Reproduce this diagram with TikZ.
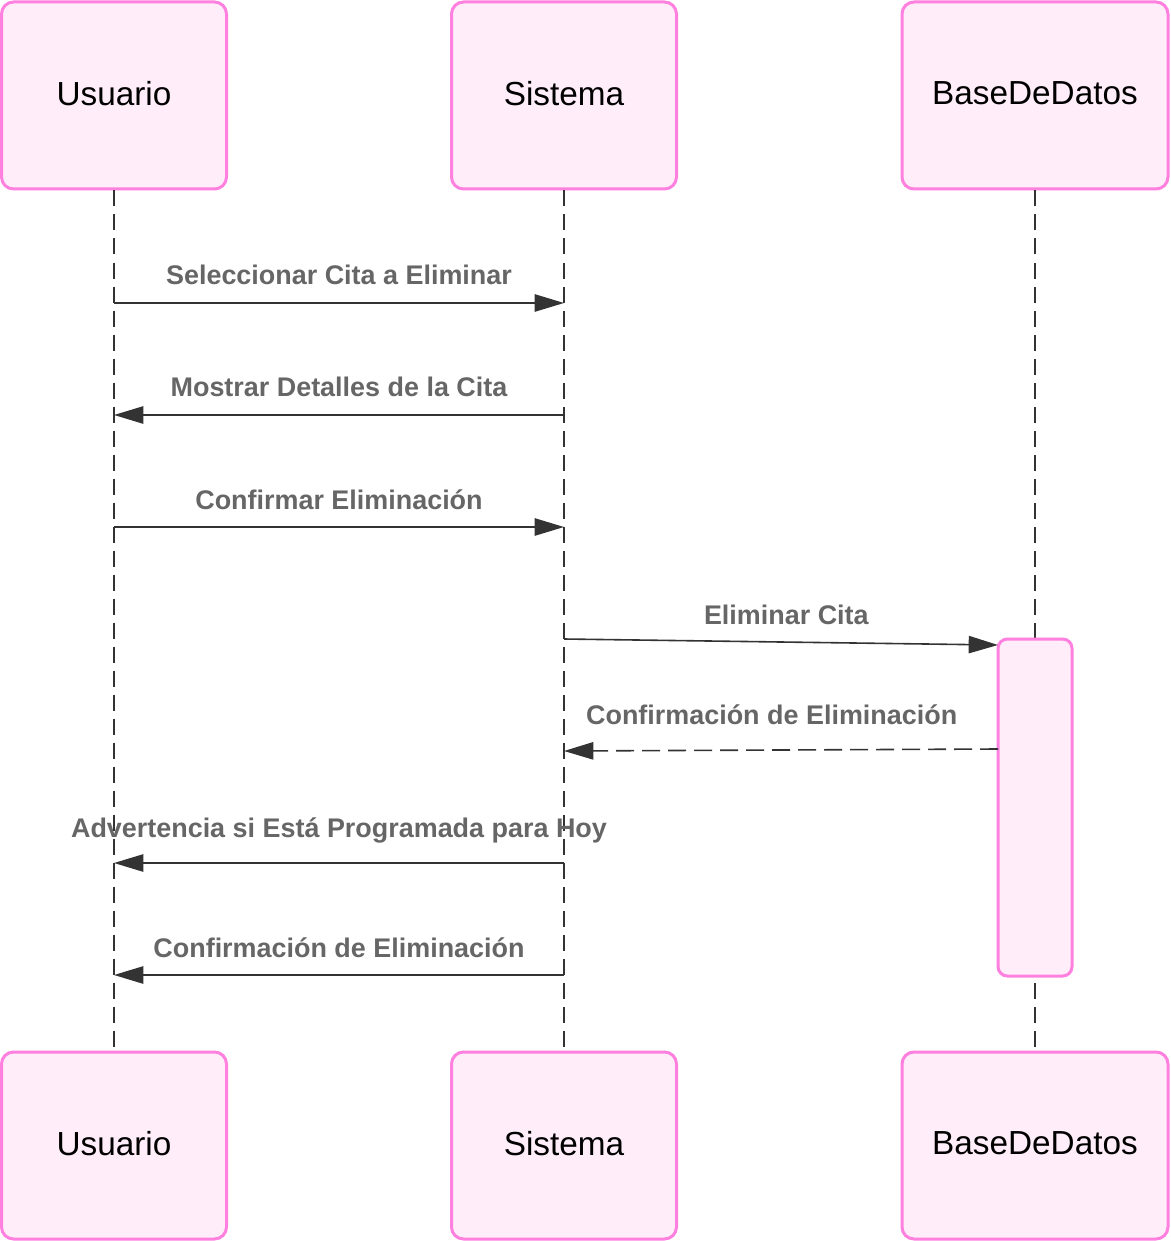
\documentclass[tikz,border=0pt]{standalone}
\usepackage{fontspec}
\setmainfont{Liberation Sans}
\usetikzlibrary{arrows.meta}
\definecolor{pinkline}{HTML}{FF80DF}
\definecolor{pinkfill}{HTML}{FFEEF9}
\definecolor{msgdark}{HTML}{333333}
\definecolor{msggray}{HTML}{666666}
\tikzset{
  actor/.style={rectangle,rounded corners=9pt,draw=pinkline,fill=pinkfill,
    line width=2.25pt,minimum height=140.25pt,inner sep=0pt,text depth=3pt,
    font=\fontsize{25}{30}\selectfont},
  lifeline/.style={draw=msgdark,line width=1.3pt,dash pattern=on 12pt off 6pt},
  msg/.style={draw=msgdark,line width=1.2pt,-{Triangle[length=22pt,width=13pt]}},
  reply/.style={msg,dash pattern=on 13.5pt off 6pt},
  lbl/.style={anchor=base,inner sep=0pt,text=msggray,
    font=\bfseries\fontsize{20.2}{24}\selectfont}
}
\begin{document}
\begin{tikzpicture}[x=0.75pt,y=-0.75pt]
        \useasboundingbox (0,0) rectangle (1170,1241);

        % participants
        \begin{scope}[every node/.style={actor}]
          \node[minimum width=168.75pt] (ut) at (114,95.5)  {Usuario};
          \node[minimum width=168.75pt] (st) at (564,95.5)  {Sistema};
          \node[minimum width=199.5pt]  (bt) at (1035,95.5) {BaseDeDatos};
          \node[minimum width=168.75pt] (ub) at (114,1145.5) {Usuario};
          \node[minimum width=168.75pt] (sb) at (564,1145.5) {Sistema};
          \node[minimum width=199.5pt]  (bb) at (1035,1145.5) {BaseDeDatos};
        \end{scope}

        % lifelines
        \path[lifeline] (ut.south) -- (ub.north);
        \path[lifeline] (st.south) -- (sb.north);
        \path[lifeline] (bt.south) -- (bb.north);

        % activation
        \node[actor,minimum width=55.5pt,minimum height=252.75pt,rounded corners=7pt]
          (act) at (1035,807.5) {};

        % points on the lifelines
        \coordinate (u1) at (114,303);  \coordinate (s1) at (564,303);
        \coordinate (u2) at (114,415);  \coordinate (s2) at (564,415);
        \coordinate (u3) at (114,527);  \coordinate (s3) at (564,527);
        \coordinate (s4) at (564,639);  \coordinate (b4) at (998,645);
        \coordinate (b5) at (998,749);  \coordinate (s5) at (564,751);
        \coordinate (u6) at (114,863);  \coordinate (s6) at (564,863);
        \coordinate (u7) at (114,975);  \coordinate (s7) at (564,975);

        % messages
        \path (u1) edge[msg] node[lbl,yshift=14pt] {Seleccionar Cita a Eliminar} (s1);
        \path (s2) edge[msg] node[lbl,yshift=14pt] {Mostrar Detalles de la Cita} (u2);
        \path (u3) edge[msg] node[lbl,yshift=13.5pt] {Confirmar Eliminación} (s3);
        \path (s4) edge[msg] node[lbl,yshift=13.5pt,xshift=4pt] {Eliminar Cita} (b4);
        \path (b5) edge[reply] node[lbl,yshift=19.5pt,xshift=-7pt] {Confirmación de Eliminación} (s5);
        \path (s6) edge[msg] node[lbl,yshift=19.5pt] {Advertencia si Está Programada para Hoy} (u6);
        \path (s7) edge[msg] node[lbl,yshift=13.5pt] {Confirmación de Eliminación} (u7);

      \end{tikzpicture}
\end{document}
